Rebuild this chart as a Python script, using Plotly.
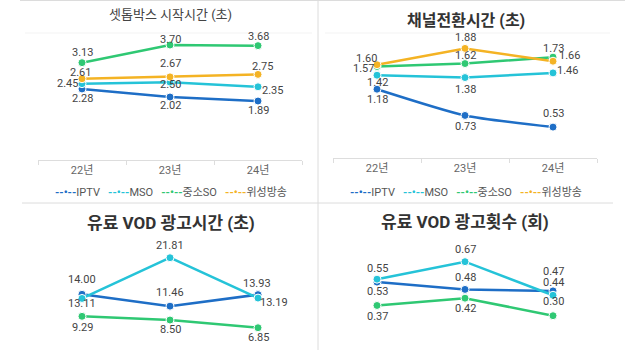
import plotly.graph_objects as go

years = ["22년", "23년", "24년"]
series = ["IPTV", "MSO", "중소SO", "위성방송"]
colors = {"IPTV": "#1e6ec6", "MSO": "#25c3d8", "중소SO": "#2fc873", "위성방송": "#f4b324"}

titles = ["셋톱박스 시작시간 (초)", "채널전환시간 (초)", "유료 VOD 광고시간 (초)", "유료 VOD 광고횟수 (회)"]

# panel 1: set-top box start time
stb_iptv = [2.28, 2.02, 1.89]
stb_mso = [2.45, 2.50, 2.35]
stb_so = [3.13, 3.70, 3.68]
stb_sat = [2.61, 2.67, 2.75]
# panel 2: channel switching time
ch_iptv = [1.18, 0.73, 0.53]
ch_mso = [1.42, 1.38, 1.46]
ch_so = [1.57, 1.62, 1.73]
ch_sat = [1.60, 1.88, 1.66]
# panel 3: paid VOD ad time
vt_iptv = [14.00, 11.46, 13.93]
vt_mso = [13.11, 21.81, 13.19]
vt_so = [9.29, 8.50, 6.85]
# panel 4: paid VOD ad count
vc_iptv = [0.53, 0.48, 0.47]
vc_mso = [0.55, 0.67, 0.44]
vc_so = [0.37, 0.42, 0.30]

panels = [
    {"IPTV": stb_iptv, "MSO": stb_mso, "중소SO": stb_so, "위성방송": stb_sat},
    {"IPTV": ch_iptv, "MSO": ch_mso, "중소SO": ch_so, "위성방송": ch_sat},
    {"IPTV": vt_iptv, "MSO": vt_mso, "중소SO": vt_so},
    {"IPTV": vc_iptv, "MSO": vc_mso, "중소SO": vc_so},
]

# label offsets (px): (dx, dy) with dy positive = downward
offsets = [
    {"IPTV": [(0, 10), (0, 9), (0, 9)],
     "MSO": [(-15, 0), (0, 2), (14, 4)],
     "중소SO": [(0, -10), (0, -6), (0, -9)],
     "위성방송": [(-2, -6), (0, -13), (4, -8)]},
    {"IPTV": [(0, 10), (0, 11), (0, -14)],
     "MSO": [(0, 7), (0, 12), (14, -2)],
     "중소SO": [(-14, 2), (0, -8), (0, -9)],
     "위성방송": [(-11, -6), (0, -11), (16, -6)]},
    {"IPTV": [(0, -15), (0, -14), (-1, -11)],
     "MSO": [(0, 5), (0, -12), (16, 4)],
     "중소SO": [(0, 11), (0, 9), (0, 10)]},
    {"IPTV": [(0, 9), (0, -12), (0, -19)],
     "MSO": [(0, -11), (0, -12), (0, -13)],
     "중소SO": [(0, 11), (0, 10), (0, -14)]},
]

W, H = 640, 350
def py(y):
    return 1 - y / H

xdom = [[38 / W, 302 / W], [333 / W, 597 / W], [38 / W, 302 / W], [333 / W, 597 / W]]
ydom = [[py(159.5), py(31)], [py(158), py(31)], [0, py(231)], [0, py(231)]]
yrng = [[0, 128.5 / 30.94], [0, 127 / 58.3], [9.8 / 4.68, 128.8 / 4.68], [9.5 / 146, 128.5 / 146]]

FONT = "Roboto, 'Noto Sans CJK KR', sans-serif"
fig = go.Figure()
annotations = []

for i, data in enumerate(panels):
    ax = "" if i == 0 else str(i + 1)
    for name, vals in data.items():
        shape = "spline" if (i == 1 and name == "IPTV") else "linear"
        fig.add_trace(go.Scatter(
            x=years, y=vals, name=name, mode="lines+markers",
            line=dict(color=colors[name], width=2.5, shape=shape, smoothing=0.6),
            marker=dict(size=8, color=colors[name], line=dict(color="white", width=1)),
            xaxis="x" + ax, yaxis="y" + ax,
            showlegend=False, hoverinfo="skip",
        ))
        for j, v in enumerate(vals):
            dx, dy = offsets[i][name][j]
            annotations.append(dict(
                x=years[j], y=v, xref="x" + ax, yref="y" + ax, text=f"{v:.2f}",
                showarrow=False, xshift=dx, yshift=-dy,
                font=dict(family=FONT, size=11, color="#444"),
            ))
    xa = dict(domain=xdom[i], type="category", categoryorder="array", categoryarray=years,
              range=[-0.5, 2.5], fixedrange=True, anchor="y" + ax)
    if i < 2:
        xa.update(showline=True, linecolor="#dddddd", linewidth=1, ticks="outside",
                  ticklen=4, tickcolor="#dddddd", tickson="boundaries", showgrid=False,
                  tickfont=dict(family=FONT, size=11, color="#666"))
    else:
        xa.update(visible=False)
    ya = dict(domain=ydom[i], range=yrng[i], visible=False, anchor="x" + ax, fixedrange=True)
    fig.layout["xaxis" + ax] = xa
    fig.layout["yaxis" + ax] = ya

# titles
title_specs = [
    (170, 15, 13, "#444"),
    (466, 20, 16, "#333"),
    (171, 223, 17, "#333"),
    (465, 222, 17, "#333"),
]
for t, (cx, cy, fs, col) in zip(titles, title_specs):
    annotations.append(dict(
        x=cx / W, y=py(cy), xref="paper", yref="paper", text=f"<b>{t}</b>" if fs > 13 else t,
        showarrow=False, xanchor="center", yanchor="middle",
        font=dict(family=FONT, size=fs, color=col),
    ))

# legends (one per top panel), drawn as text
gap = "\u00a0\u00a0\u00a0"
legend_text = gap.join(
    f"<span style='color:{colors[s]}'><b>--•--</b></span>{s}" for s in series
)
for cx in (171, 466):
    annotations.append(dict(
        x=cx / W, y=py(192), xref="paper", yref="paper", text=legend_text,
        showarrow=False, xanchor="center", yanchor="middle",
        font=dict(family=FONT, size=11, color="#555"),
    ))

shapes = [
    dict(type="line", xref="paper", yref="paper", x0=318 / W, x1=318 / W, y0=0, y1=1,
         line=dict(color="#dcdcdc", width=1)),
    dict(type="line", xref="paper", yref="paper", x0=22 / W, x1=613 / W, y0=py(203), y1=py(203),
         line=dict(color="#dcdcdc", width=1)),
    dict(type="line", xref="paper", yref="paper", x0=20 / W, x1=625 / W, y0=py(0.5), y1=py(0.5),
         line=dict(color="#dcdcdc", width=1)),
    dict(type="line", xref="paper", yref="paper", x0=25 / W, x1=312 / W, y0=py(33), y1=py(33),
         line=dict(color="#f3f3f3", width=1)),
    dict(type="line", xref="paper", yref="paper", x0=325 / W, x1=610 / W, y0=py(33), y1=py(33),
         line=dict(color="#f3f3f3", width=1)),
]

fig.update_layout(
    width=W, height=H, margin=dict(l=0, r=0, t=0, b=0),
    paper_bgcolor="white", plot_bgcolor="white",
    annotations=annotations, shapes=shapes, showlegend=False,
    font=dict(family=FONT),
)

fig.write_html("out.html")
